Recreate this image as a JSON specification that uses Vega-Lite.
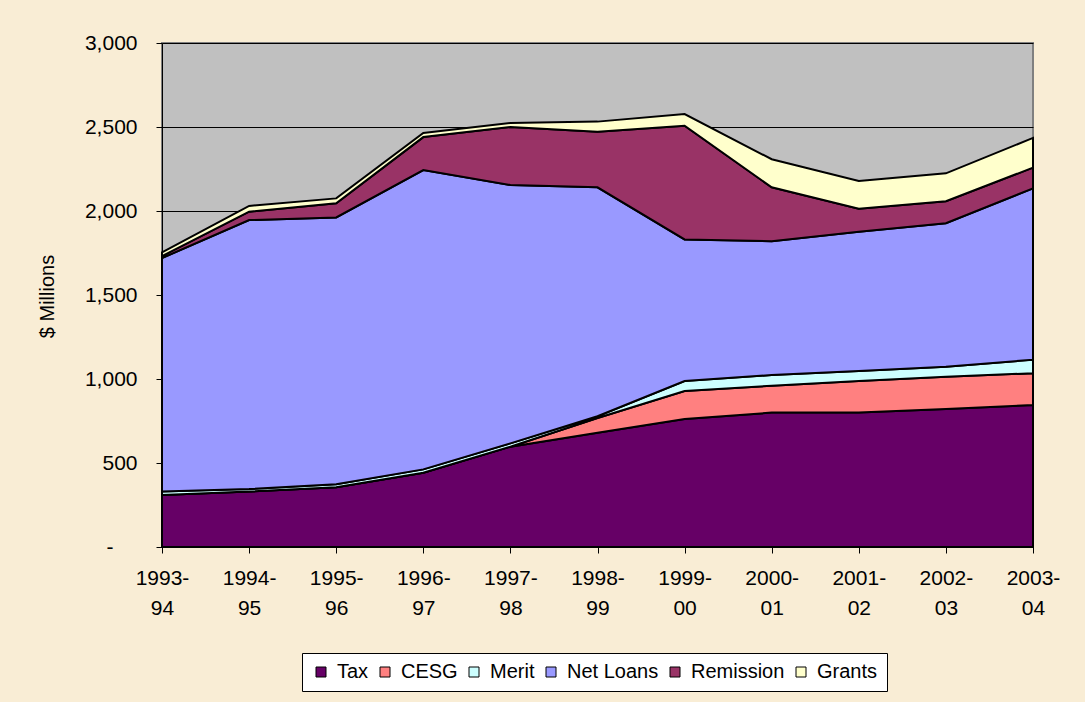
{
  "$schema": "https://vega.github.io/schema/vega-lite/v6.json",
  "width": 871,
  "height": 504,
  "autosize": {"type": "none"},
  "padding": {"left": 162, "top": 43, "right": 52, "bottom": 155},
  "background": "#F9EDD5",
  "config": {
    "view": {"fill": "#C0C0C0", "stroke": "#808080", "strokeWidth": 2},
    "font": "Liberation Sans"
  },
  "data": {
    "values": [
      {"year": "1993-94", "type": "Tax", "k": 1, "v": 310},
      {"year": "1994-95", "type": "Tax", "k": 1, "v": 330},
      {"year": "1995-96", "type": "Tax", "k": 1, "v": 355},
      {"year": "1996-97", "type": "Tax", "k": 1, "v": 442},
      {"year": "1997-98", "type": "Tax", "k": 1, "v": 597},
      {"year": "1998-99", "type": "Tax", "k": 1, "v": 680},
      {"year": "1999-00", "type": "Tax", "k": 1, "v": 762},
      {"year": "2000-01", "type": "Tax", "k": 1, "v": 800},
      {"year": "2001-02", "type": "Tax", "k": 1, "v": 800},
      {"year": "2002-03", "type": "Tax", "k": 1, "v": 821},
      {"year": "2003-04", "type": "Tax", "k": 1, "v": 845},
      {"year": "1993-94", "type": "CESG", "k": 2, "v": 0},
      {"year": "1994-95", "type": "CESG", "k": 2, "v": 0},
      {"year": "1995-96", "type": "CESG", "k": 2, "v": 0},
      {"year": "1996-97", "type": "CESG", "k": 2, "v": 0},
      {"year": "1997-98", "type": "CESG", "k": 2, "v": 0},
      {"year": "1998-99", "type": "CESG", "k": 2, "v": 88},
      {"year": "1999-00", "type": "CESG", "k": 2, "v": 167},
      {"year": "2000-01", "type": "CESG", "k": 2, "v": 160},
      {"year": "2001-02", "type": "CESG", "k": 2, "v": 188},
      {"year": "2002-03", "type": "CESG", "k": 2, "v": 193},
      {"year": "2003-04", "type": "CESG", "k": 2, "v": 189},
      {"year": "1993-94", "type": "Merit", "k": 3, "v": 20},
      {"year": "1994-95", "type": "Merit", "k": 3, "v": 15},
      {"year": "1995-96", "type": "Merit", "k": 3, "v": 18},
      {"year": "1996-97", "type": "Merit", "k": 3, "v": 20},
      {"year": "1997-98", "type": "Merit", "k": 3, "v": 20},
      {"year": "1998-99", "type": "Merit", "k": 3, "v": 10},
      {"year": "1999-00", "type": "Merit", "k": 3, "v": 59},
      {"year": "2000-01", "type": "Merit", "k": 3, "v": 64},
      {"year": "2001-02", "type": "Merit", "k": 3, "v": 60},
      {"year": "2002-03", "type": "Merit", "k": 3, "v": 59},
      {"year": "2003-04", "type": "Merit", "k": 3, "v": 81},
      {"year": "1993-94", "type": "Net Loans", "k": 4, "v": 1390},
      {"year": "1994-95", "type": "Net Loans", "k": 4, "v": 1601},
      {"year": "1995-96", "type": "Net Loans", "k": 4, "v": 1589},
      {"year": "1996-97", "type": "Net Loans", "k": 4, "v": 1782},
      {"year": "1997-98", "type": "Net Loans", "k": 4, "v": 1538},
      {"year": "1998-99", "type": "Net Loans", "k": 4, "v": 1363},
      {"year": "1999-00", "type": "Net Loans", "k": 4, "v": 843},
      {"year": "2000-01", "type": "Net Loans", "k": 4, "v": 796},
      {"year": "2001-02", "type": "Net Loans", "k": 4, "v": 829},
      {"year": "2002-03", "type": "Net Loans", "k": 4, "v": 854},
      {"year": "2003-04", "type": "Net Loans", "k": 4, "v": 1020},
      {"year": "1993-94", "type": "Remission", "k": 5, "v": 12},
      {"year": "1994-95", "type": "Remission", "k": 5, "v": 50},
      {"year": "1995-96", "type": "Remission", "k": 5, "v": 84},
      {"year": "1996-97", "type": "Remission", "k": 5, "v": 196},
      {"year": "1997-98", "type": "Remission", "k": 5, "v": 345},
      {"year": "1998-99", "type": "Remission", "k": 5, "v": 331},
      {"year": "1999-00", "type": "Remission", "k": 5, "v": 677},
      {"year": "2000-01", "type": "Remission", "k": 5, "v": 321},
      {"year": "2001-02", "type": "Remission", "k": 5, "v": 137},
      {"year": "2002-03", "type": "Remission", "k": 5, "v": 131},
      {"year": "2003-04", "type": "Remission", "k": 5, "v": 123},
      {"year": "1993-94", "type": "Grants", "k": 6, "v": 22},
      {"year": "1994-95", "type": "Grants", "k": 6, "v": 34},
      {"year": "1995-96", "type": "Grants", "k": 6, "v": 29},
      {"year": "1996-97", "type": "Grants", "k": 6, "v": 24},
      {"year": "1997-98", "type": "Grants", "k": 6, "v": 24},
      {"year": "1998-99", "type": "Grants", "k": 6, "v": 60},
      {"year": "1999-00", "type": "Grants", "k": 6, "v": 69},
      {"year": "2000-01", "type": "Grants", "k": 6, "v": 167},
      {"year": "2001-02", "type": "Grants", "k": 6, "v": 165},
      {"year": "2002-03", "type": "Grants", "k": 6, "v": 166},
      {"year": "2003-04", "type": "Grants", "k": 6, "v": 177}
    ]
  },
  "mark": {"type": "area", "stroke": "black", "strokeWidth": 2, "strokeJoin": "miter", "opacity": 1, "fillOpacity": 1},
  "encoding": {
    "x": {
      "field": "year",
      "type": "ordinal",
      "scale": {"type": "point", "padding": 0},
      "axis": {
        "title": null,
        "labelAngle": 0,
        "labelExpr": "[slice(datum.label, 0, 5), slice(datum.label, 5)]",
        "labelFontSize": 21,
        "labelColor": "black",
        "labelLineHeight": 30,
        "labelPadding": 14,
        "tickColor": "black",
        "tickSize": 6,
        "domainColor": "black",
        "domainWidth": 1,
        "grid": false
      }
    },
    "y": {
      "field": "v",
      "type": "quantitative",
      "stack": "zero",
      "scale": {"domain": [0, 3000]},
      "axis": {
        "title": "$ Millions",
        "titleFontSize": 20,
        "titleFontWeight": "normal",
        "titleColor": "black",
        "titleX": -115,
        "titleY": 253,
        "titleAngle": -90,
        "titleAlign": "center",
        "titleBaseline": "middle",
        "values": [0, 500, 1000, 1500, 2000, 2500, 3000],
        "labelExpr": "datum.value == 0 ? '-' : format(datum.value, ',')",
        "labelFontSize": 21,
        "labelColor": "black",
        "labelPadding": {"condition": {"test": "datum.value == 0", "value": 43}, "value": 19},
        "tickColor": "black",
        "tickSize": 6,
        "domainColor": "black",
        "domainWidth": 1,
        "grid": true,
        "gridColor": "black",
        "gridWidth": 1,
        "gridOpacity": 1
      }
    },
    "color": {
      "field": "type",
      "type": "nominal",
      "scale": {
        "domain": ["Tax", "CESG", "Merit", "Net Loans", "Remission", "Grants"],
        "range": ["#660066", "#FF8080", "#CCFFFF", "#9999FF", "#993366", "#FFFFCC"]
      },
      "legend": {
        "title": null,
        "orient": "none",
        "legendX": 140,
        "legendY": 610,
        "direction": "horizontal",
        "columns": 6,
        "fillColor": "white",
        "strokeColor": "black",
        "padding": 9,
        "symbolType": "square",
        "symbolSize": 100,
        "symbolStrokeColor": "black",
        "symbolStrokeWidth": 1,
        "symbolOpacity": 1,
        "labelFontSize": 20,
        "labelColor": "black",
        "labelOffset": 6,
        "columnPadding": 6
      }
    },
    "order": {"field": "k", "type": "quantitative"}
  }
}
